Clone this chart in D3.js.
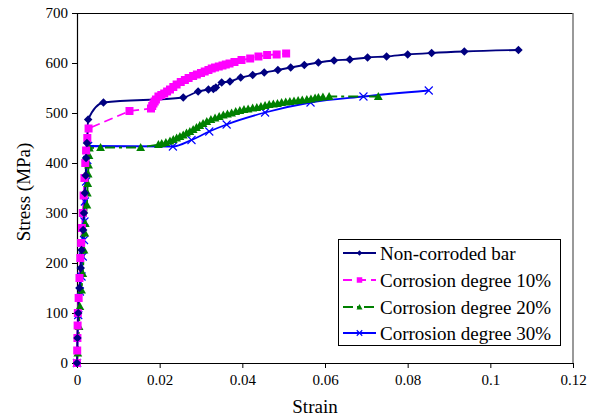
<!DOCTYPE html>
<html>
<head>
<meta charset="utf-8">
<script src="https://cdn.jsdelivr.net/npm/d3@7"></script>
<style>
html,body{margin:0;padding:0;background:#fff;}
svg{display:block;}
</style>
</head>
<body>
<svg id="chart" width="597" height="420"></svg>
<script>
// ---- data (strain, stress MPa) ----
const xTicks = [0, 0.02, 0.04, 0.06, 0.08, 0.1, 0.12];
const yTicks = [0, 100, 200, 300, 400, 500, 600, 700];
const seriesNames = ["Non-corroded bar", "Corrosion degree 10%", "Corrosion degree 20%", "Corrosion degree 30%"];

const nonCorroded = [[0,0],[0.0001,50],[0.0003,100],[0.0006,150],[0.0009,190],[0.0011,226],[0.0015,266],[0.0017,300],[0.0019,340],[0.0021,375],[0.0022,410],[0.0024,440],[0.0027,487],[0.0064,521],[0.0257,531],[0.0293,543],[0.0318,547],[0.033,548],[0.0336,551],[0.035,561],[0.037,563],[0.0396,571],[0.0425,576],[0.0453,581],[0.0486,586],[0.0517,591],[0.055,596],[0.0584,601],[0.0622,605],[0.066,607],[0.0703,611],[0.0749,613],[0.08,617],[0.0858,620],[0.0937,623],[0.1068,626]];

const corrosion10 = [[0,0],[0.00005,25],[0.0001,50],[0.00015,75],[0.0002,100],[0.0004,130],[0.0006,170],[0.0008,210],[0.001,240],[0.0012,270],[0.0014,300],[0.0016,335],[0.0018,370],[0.002,400],[0.0022,425],[0.0025,450],[0.0028,469],[0.0127,504],[0.0179,509],[0.0182,514],[0.0185,519],[0.0188,523],[0.0191,527],[0.0197,533],[0.0204,536],[0.0211,539],[0.0218,543],[0.0225,547],[0.0233,552],[0.0241,557],[0.0251,562],[0.0261,566],[0.027,570],[0.0281,574],[0.029,577],[0.03,580],[0.0309,583],[0.0318,586],[0.0326,589],[0.0334,591],[0.0343,593],[0.0352,595],[0.036,597],[0.0369,599],[0.0381,602],[0.0398,606],[0.0419,609],[0.0439,613],[0.046,616],[0.0483,617],[0.0506,619]];

const corrosion20 = [[0,0],[0.0002,20],[0.0005,73],[0.0007,113],[0.0011,146],[0.0014,179],[0.0017,226],[0.0019,260],[0.002,279],[0.0024,316],[0.0025,340],[0.0026,359],[0.0027,378],[0.0028,396],[0.0029,415],[0.003,430],[0.0057,431],[0.0154,431],[0.0197,437],[0.0205,439],[0.0215,441],[0.0225,444],[0.0233,447],[0.0241,450],[0.0249,453],[0.0257,456],[0.0265,460],[0.0273,463],[0.0281,467],[0.0289,471],[0.0297,475],[0.0305,479],[0.0314,483],[0.0324,487],[0.0334,490],[0.0344,493],[0.0354,496],[0.0364,498],[0.0374,500],[0.0384,503],[0.0394,505],[0.0404,507],[0.0414,508],[0.0425,510],[0.0435,511],[0.0445,513],[0.0455,515],[0.0465,517],[0.0475,518],[0.0485,519],[0.0495,521],[0.0505,522],[0.0515,523],[0.0525,524],[0.0535,525],[0.0545,526],[0.0556,527],[0.0566,528],[0.0576,530],[0.0584,531],[0.0595,532],[0.061,533],[0.0729,533]];

const corrosion30 = [[0,0],[0.0003,96],[0.0007,143],[0.0011,173],[0.0014,213],[0.0017,246],[0.0018,283],[0.0019,323],[0.0022,363],[0.0025,406],[0.0027,434],[0.0232,433],[0.0277,446],[0.032,463],[0.0362,477],[0.0455,501],[0.0565,521],[0.0693,533],[0.0851,545]];

// ---- layout ----
const FONT = '"Liberation Serif", "Times New Roman", "DejaVu Serif", serif';
const W = 597, H = 420;
const m = {left: 77, top: 13, right: 24, bottom: 57};
const iw = W - m.left - m.right, ih = H - m.top - m.bottom;
const svg = d3.select("#chart");
const g = svg.append("g").attr("transform", `translate(${m.left},${m.top})`);

const x = d3.scaleLinear().domain([0, 0.12]).range([0, iw]);
const y = d3.scaleLinear().domain([0, 700]).range([ih, 0]);

// plot frame (top & right)
g.append("line").attr("x1",0).attr("x2",iw).attr("y1",0.5).attr("y2",0.5).attr("stroke","#000").attr("stroke-width",1);
g.append("line").attr("x1",iw).attr("x2",iw).attr("y1",0).attr("y2",ih).attr("stroke","#777").attr("stroke-width",1.5);

// axes
const xAxis = d3.axisBottom(x).tickValues(xTicks).tickSizeInner(5).tickSizeOuter(0).tickPadding(6)
  .tickFormat(d => d === 0 ? "0" : String(+d.toFixed(2)));
const yAxis = d3.axisLeft(y).tickValues(yTicks).tickSizeInner(5).tickSizeOuter(0).tickPadding(4)
  .tickFormat(d3.format("d"));
const gx = g.append("g").attr("transform", `translate(0,${ih})`).call(xAxis);
const gy = g.append("g").call(yAxis);
[gx, gy].forEach(a => {
  a.attr("font-family", FONT).attr("font-size", 15);
  a.select(".domain").attr("stroke","#000").attr("stroke-width",1.2);
  a.selectAll(".tick line").attr("stroke","#000").attr("stroke-width",1);
  a.selectAll(".tick text").attr("font-family", FONT).attr("font-size", 15).attr("fill","#000");
});

// axis titles
svg.append("text").attr("x", m.left + iw/2 - 10).attr("y", 413).attr("text-anchor","middle")
  .attr("font-family", FONT).attr("font-size", 19).text("Strain");
svg.append("text").attr("transform", `translate(30,192) rotate(-90)`).attr("text-anchor","middle")
  .attr("font-family", FONT).attr("font-size", 19).text("Stress (MPa)");

// series styles
const styles = [
  {data: nonCorroded, color: "#000080", dash: null, marker: "diamond", curve: d3.curveMonotoneX},
  {data: corrosion10, color: "#FF00FF", dash: "9,5", marker: "square", curve: d3.curveLinear},
  {data: corrosion20, color: "#008000", dash: "10,4,3,4", marker: "triangle", curve: d3.curveLinear},
  {data: corrosion30, color: "#0000FF", dash: null, marker: "cross", curve: d3.curveMonotoneX}
];

function drawMarker(sel, type, color, s) {
  if (type === "diamond") {
    sel.append("path").attr("d", `M0,${-s/2}L${s/2},0L0,${s/2}L${-s/2},0Z`).attr("fill", color);
  } else if (type === "square") {
    sel.append("rect").attr("x", -s/2).attr("y", -s/2).attr("width", s).attr("height", s).attr("fill", color);
  } else if (type === "triangle") {
    sel.append("path").attr("d", `M0,${-s*0.55}L${s*0.55},${s*0.45}L${-s*0.55},${s*0.45}Z`).attr("fill", color);
  } else if (type === "cross") {
    sel.append("path").attr("d", `M${-s/2},${-s/2}L${s/2},${s/2}M${-s/2},${s/2}L${s/2},${-s/2}`)
      .attr("stroke", color).attr("stroke-width", 1.1).attr("fill","none");
  }
}

const plot = g.append("g");
styles.slice().reverse().forEach(st => {
  const line = d3.line().x(d => x(d[0])).y(d => y(d[1])).curve(st.curve);
  plot.append("path").datum(st.data).attr("d", line).attr("fill","none")
    .attr("stroke", st.color).attr("stroke-width", 1.8)
    .attr("stroke-dasharray", st.dash);
});
const sizes = {diamond: 8.5, square: 8, triangle: 8, cross: 8};
styles.slice().reverse().forEach(st => {
  plot.selectAll(null).data(st.data).enter().append("g")
    .attr("transform", d => `translate(${x(d[0])},${y(d[1])})`)
    .each(function(){ drawMarker(d3.select(this), st.marker, st.color, sizes[st.marker]); });
});

// legend
const lg = svg.append("g");
lg.append("rect").attr("x", 338.5).attr("y", 239.5).attr("width", 222).attr("height", 106)
  .attr("fill","#fff").attr("stroke","#000").attr("stroke-width",1);
const rowY = [253, 280, 307, 333];
styles.forEach((st, i) => {
  const yy = rowY[i];
  lg.append("line").attr("x1", 343).attr("x2", 376).attr("y1", yy).attr("y2", yy)
    .attr("stroke", st.color).attr("stroke-width", 1.8).attr("stroke-dasharray", st.dash);
  const mk = lg.append("g").attr("transform", `translate(359.5,${yy})`);
  drawMarker(mk, st.marker, st.color, 5.5);
  lg.append("text").attr("x", 380).attr("y", yy).attr("dy", "0.35em")
    .attr("font-family", FONT).attr("font-size", 19).text(seriesNames[i]);
});
</script>
</body>
</html>
